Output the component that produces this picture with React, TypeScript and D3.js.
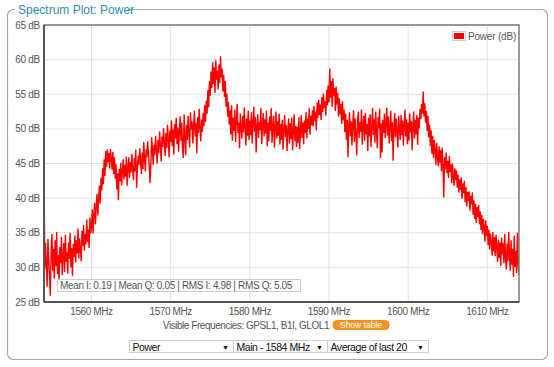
import React from "react";
import * as d3 from "d3";

const freqStart = 1554;
const freqStep = 0.1;
const powerDb: number[] = [
  45.5, 29.8, 33.6, 30.4, 27.2, 34.1, 31.0, 28.7, 25.9, 32.3,
  34.8, 29.5, 32.7, 28.4, 33.9, 30.2, 35.1, 29.0, 31.8, 28.1,
  32.9, 30.6, 34.4, 28.9, 31.7, 33.5, 29.3, 34.7, 30.8, 32.2,
  29.1, 33.6, 31.2, 35.0, 30.0, 32.8, 28.8, 33.4, 31.5, 34.6,
  30.7, 33.9, 32.0, 35.6, 31.3, 34.2, 32.6, 30.9, 35.3, 33.1,
  36.1, 32.4, 34.8, 33.3, 36.9, 33.7, 35.5, 32.8, 37.2, 34.9,
  35.8, 38.4, 34.9, 37.6, 39.3, 36.2, 38.8, 40.6, 37.5, 39.9,
  41.8, 39.2, 42.9, 41.1, 44.3, 42.0, 45.6, 43.2, 46.8, 44.5,
  47.0, 45.2, 46.5, 44.3, 47.1, 45.8, 44.1, 46.7, 43.5, 45.9,
  42.8, 44.9, 41.3, 43.6, 39.7, 44.2, 42.4, 45.1, 41.9, 43.8,
  45.6, 42.7, 44.8, 43.1, 46.0, 41.8, 44.4, 45.9, 42.9, 45.2,
  43.7, 46.4, 44.1, 42.6, 45.8, 43.9, 47.0, 41.5, 44.4, 46.1,
  44.8, 47.2, 45.3, 43.5, 46.6, 44.2, 48.1, 45.7, 43.9, 47.0,
  45.9, 48.2, 46.3, 44.4, 42.2, 45.1, 48.8, 46.9, 44.8, 47.7,
  46.2, 49.0, 47.1, 45.0, 48.4, 46.5, 49.6, 47.6, 45.3, 48.9,
  47.4, 50.1, 48.0, 46.1, 49.4, 47.2, 50.6, 48.5, 45.9, 49.8,
  48.1, 51.2, 47.5, 49.9, 46.3, 50.7, 48.6, 51.6, 47.8, 50.2,
  46.7, 49.5, 51.8, 48.3, 50.9, 47.1, 45.8, 52.1, 48.8, 46.2,
  50.6, 48.4, 51.9, 49.2, 47.3, 52.4, 49.9, 51.1, 47.9, 50.5,
  52.6, 48.9, 50.8, 46.5, 51.7, 49.4, 52.9, 50.1, 48.2, 51.4,
  49.6, 52.3, 50.4, 53.4, 51.0, 54.1, 52.2, 55.6, 53.1, 56.9,
  54.8, 58.3, 55.9, 59.6, 56.5, 58.9, 55.2, 59.9, 57.1, 58.4,
  55.7, 59.3, 56.6, 60.5, 57.4, 58.7, 55.4, 57.8, 54.6, 56.9,
  53.2, 55.1, 51.8, 53.9, 50.6, 52.7, 49.2, 53.4, 48.3, 51.6,
  49.7, 52.8, 48.1, 51.3, 53.6, 49.4, 50.9, 47.2, 52.2, 50.0,
  48.6, 51.9, 49.5, 53.1, 50.3, 47.6, 51.5, 49.0, 52.6, 48.4,
  51.2, 49.1, 52.4, 47.9, 50.8, 53.2, 49.6, 51.7, 46.6, 50.5,
  52.1, 48.7, 51.0, 49.8, 53.0, 47.8, 50.6, 52.3, 48.9, 51.4,
  49.3, 52.6, 47.5, 50.9, 48.2, 51.8, 49.7, 53.0, 48.0, 50.4,
  51.9, 47.3, 50.2, 52.5, 48.6, 51.1, 49.0, 52.2, 47.7, 50.7,
  48.4, 51.3, 47.0, 50.1, 52.0, 48.8, 50.6, 46.8, 49.9, 51.5,
  47.9, 50.8, 48.5, 51.6, 46.9, 49.8, 52.1, 48.2, 50.4, 47.4,
  50.3, 48.0, 51.7, 47.1, 49.6, 52.0, 48.7, 50.9, 47.8, 51.2,
  49.4, 52.4, 48.6, 51.5, 50.0, 53.0, 49.2, 51.9, 50.5, 52.7,
  50.4, 53.3, 51.1, 52.5, 49.8, 53.8, 51.6, 54.2, 52.0, 53.5,
  51.3, 54.6, 52.4, 55.1, 53.0, 54.0, 51.9, 55.6, 53.4, 56.3,
  53.8, 58.7, 54.5, 56.9, 53.2, 57.3, 54.8, 55.9, 52.6, 56.1,
  53.5, 55.2, 51.8, 54.4, 52.1, 53.6, 50.7, 54.0, 51.2, 52.8,
  49.5, 52.2, 48.4, 51.3, 45.9, 50.6, 52.4, 48.9, 51.1, 47.6,
  50.8, 52.7, 48.1, 51.5, 49.3, 46.2, 50.9, 52.5, 48.7, 51.0,
  49.6, 52.8, 47.7, 50.5, 51.9, 48.3, 52.3, 49.2, 50.7, 46.8,
  51.6, 48.9, 52.1, 47.4, 50.3, 53.0, 49.1, 51.4, 48.0, 52.5,
  49.8, 47.2, 51.7, 50.1, 52.9, 45.8, 50.8, 46.6, 51.3, 49.4,
  52.2, 48.7, 50.6, 53.1, 49.0, 51.8, 47.9, 50.4, 52.6, 48.2,
  51.0, 45.4, 50.2, 52.3, 48.8, 51.5, 49.6, 47.3, 51.9, 50.0,
  48.4, 52.0, 49.1, 51.2, 47.6, 50.7, 52.8, 48.9, 51.4, 47.8,
  50.9, 48.3, 52.2, 49.5, 51.1, 46.9, 50.6, 52.5, 48.6, 51.3,
  49.2, 52.0, 47.7, 51.6, 50.1, 52.9, 51.4, 53.6, 52.2, 55.4,
  51.8, 53.7, 50.9, 52.6, 49.7, 51.9, 48.8, 50.6, 47.5, 49.8,
  46.4, 49.0, 45.8, 48.4, 46.9, 44.8, 48.0, 46.1, 44.6, 47.5,
  45.1, 46.9, 43.9, 47.3, 44.7, 40.1, 45.9, 44.2, 46.6, 43.6,
  45.4, 42.9, 46.1, 43.8, 44.9, 42.2, 45.0, 43.1, 41.8, 44.3,
  42.6, 44.0, 41.5, 43.4, 40.8, 42.7, 41.2, 43.0, 39.9, 42.1,
  40.7, 42.5, 39.4, 41.6, 38.8, 40.9, 39.6, 41.0, 38.2, 40.3,
  39.1, 40.8, 37.6, 39.7, 37.0, 39.2, 36.4, 38.7, 37.3, 39.0,
  36.2, 38.1, 35.4, 37.6, 34.8, 37.0, 35.9, 33.7, 36.8, 34.5,
  36.0, 33.2, 35.4, 32.6, 34.9, 33.8, 31.7, 35.1, 32.3, 34.4,
  31.6, 34.7, 32.9, 30.8, 34.0, 31.4, 33.6, 30.2, 34.3, 31.9,
  33.5, 30.6, 34.8, 31.3, 29.7, 33.4, 30.9, 35.1, 31.8, 29.5,
  33.9, 30.4, 32.7, 28.6, 34.6, 30.1, 32.4, 29.2, 35.0, 30.7,
  28.8,
];
const yTicks = [25, 30, 35, 40, 45, 50, 55, 60, 65];
const xTicks = [1560, 1570, 1580, 1590, 1600, 1610];
const titleText = "Spectrum Plot: Power";
const legendLabel = "Power (dB)";
const statsText = "Mean I: 0.19 | Mean Q: 0.05 | RMS I: 4.98 | RMS Q: 5.05";
const visibleText = "Visible Frequencies: GPSL1, B1I, GLOL1";
const buttonText = "Show table";
const selectLabels = ["Power", "Main - 1584 MHz", "Average of last 20"];

const W = 554;
const H = 367;
const plot = { left: 44, right: 519, top: 25, bottom: 302 };
const font = "'Liberation Sans', Arial, sans-serif";

export default function App() {
  const x = d3.scaleLinear().domain([1554, 1614]).range([plot.left, plot.right]);
  const y = d3.scaleLinear().domain([25, 65]).range([plot.bottom, plot.top]);
  const line = d3
    .line<number>()
    .x((_, i) => x(freqStart + i * freqStep))
    .y((d) => y(d));

  const selects = [
    { x: 129.5, w: 104 },
    { x: 233.5, w: 94 },
    { x: 327.5, w: 101 },
  ];

  return (
    <svg
      width={W}
      height={H}
      style={{ position: "absolute", left: 0, top: 0, fontFamily: font }}
    >
      <rect x={0} y={0} width={W} height={H} fill="#fff" />
      {/* panel */}
      <rect x={7.5} y={9.5} width={540} height={350} rx={6} fill="#fff" stroke="#a8a8a8" strokeWidth={1.2} />
      <rect x={15} y={4} width={113} height={12} fill="#fff" />
      <text x={18} y={14} fontSize={12} fill="#2f8db3">{titleText}</text>

      {/* grid */}
      {yTicks.map((t) => (
        <line key={"gy" + t} x1={plot.left} x2={plot.right} y1={y(t)} y2={y(t)} stroke="#e2e2e2" strokeWidth={1} />
      ))}
      {xTicks.map((t) => (
        <line key={"gx" + t} x1={x(t)} x2={x(t)} y1={plot.top} y2={plot.bottom} stroke="#e2e2e2" strokeWidth={1} />
      ))}

      <defs>
        <clipPath id="plotclip">
          <rect x={plot.left} y={plot.top} width={plot.right - plot.left} height={plot.bottom - plot.top} />
        </clipPath>
      </defs>
      <path
        d={line(powerDb) || ""}
        fill="none"
        stroke="#ff0000"
        strokeWidth={1.4}
        strokeLinejoin="miter"
        clipPath="url(#plotclip)"
      />

      {/* frame */}
      <rect x={plot.left} y={plot.top} width={plot.right - plot.left} height={plot.bottom - plot.top} fill="none" stroke="#7a7a7a" strokeWidth={1.5} />
      <line x1={plot.left} x2={plot.left} y1={plot.top} y2={plot.bottom} stroke="#555" strokeWidth={2} />
      <line x1={plot.left} x2={plot.right} y1={plot.bottom} y2={plot.bottom} stroke="#555" strokeWidth={2} />

      {/* y labels */}
      {yTicks.map((t) => (
        <text key={"yl" + t} x={40} y={y(t) + 3.5} fontSize={10} fill="#555" textAnchor="end" letterSpacing={-0.3}>
          {t} dB
        </text>
      ))}
      {/* x labels */}
      {xTicks.map((t) => (
        <text key={"xl" + t} x={x(t)} y={315} fontSize={10} fill="#555" textAnchor="middle" letterSpacing={-0.4}>
          {t} MHz
        </text>
      ))}

      {/* legend */}
      <rect x={452.5} y={31.5} width={13} height={9} fill="#fff" stroke="#ccc" strokeWidth={1} />
      <rect x={454} y={33} width={10} height={6} fill="#ff0000" />
      <text x={468} y={40} fontSize={10} fill="#555" letterSpacing={-0.2}>{legendLabel}</text>

      {/* stats */}
      <rect x={57.5} y={279.5} width={243} height={12} fill="#fff" fillOpacity={0.85} stroke="#ccc" strokeWidth={1} />
      <text x={60} y={289} fontSize={10} fill="#555" letterSpacing={-0.35}>{statsText}</text>

      {/* visible freqs */}
      <text x={329} y={328.5} fontSize={10} fill="#555" textAnchor="end" letterSpacing={-0.45}>{visibleText}</text>
      <rect x={333} y={320.5} width={56} height={9} rx={4} fill="#f7941d" stroke="#e58410" strokeWidth={0.8} />
      <text x={361} y={328} fontSize={8.5} fill="#fff" textAnchor="middle">{buttonText}</text>

      {/* selects */}
      {selects.map((s, i) => (
        <g key={"sel" + i}>
          <rect x={s.x} y={340.5} width={s.w} height={12} fill="#fff" stroke="#cfcfcf" strokeWidth={1} />
          <text x={s.x + 3} y={350.5} fontSize={10.5} fill="#111" letterSpacing={-0.45}>{selectLabels[i]}</text>
          <text x={s.x + s.w - 8} y={350} fontSize={7} fill="#111" textAnchor="middle">▼</text>
        </g>
      ))}
    </svg>
  );
}
